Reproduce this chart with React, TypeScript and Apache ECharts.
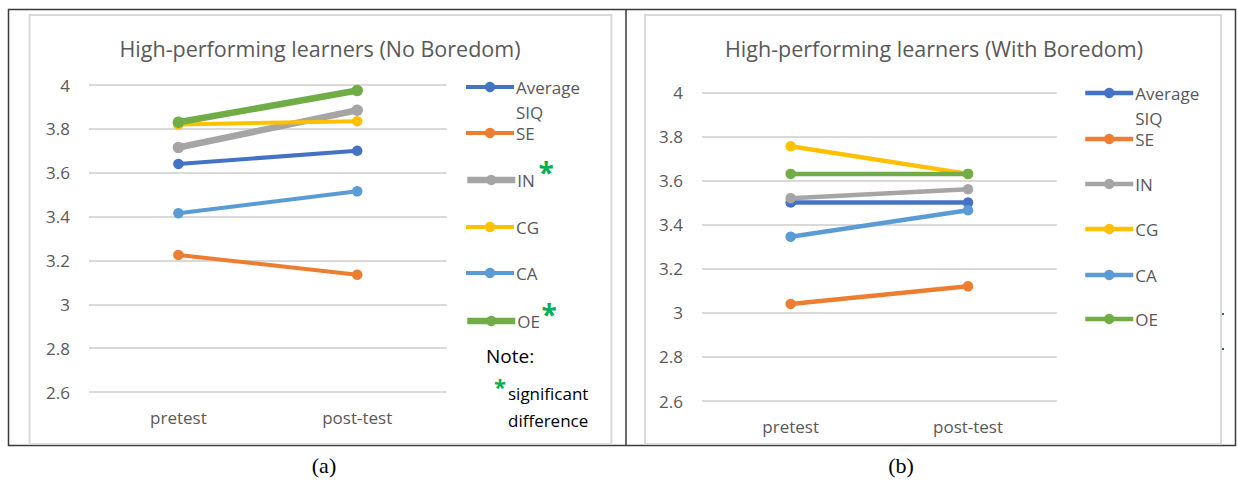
import React, { useEffect, useRef } from 'react';
import * as echarts from 'echarts';

// ---------- data ----------
const categories = ['pretest', 'post-test'];
const seriesNames = ['Average SIQ', 'SE', 'IN', 'CG', 'CA', 'OE'];
const seriesColors = ['#4472C4', '#ED7D31', '#A5A5A5', '#FFC000', '#5B9BD5', '#70AD47'];

const noBoredomAvg = [3.64, 3.7];
const noBoredomSE = [3.225, 3.135];
const noBoredomIN = [3.715, 3.885];
const noBoredomCG = [3.82, 3.835];
const noBoredomCA = [3.415, 3.515];
const noBoredomOE = [3.83, 3.975];

const withBoredomAvg = [3.5, 3.5];
const withBoredomSE = [3.04, 3.12];
const withBoredomIN = [3.52, 3.56];
const withBoredomCG = [3.755, 3.63];
const withBoredomCA = [3.345, 3.465];
const withBoredomOE = [3.63, 3.63];

const yMin = 2.6;
const yMax = 4;
const yInterval = 0.2;

const titleLeft = 'High-performing learners (No Boredom)';
const titleRight = 'High-performing learners (With Boredom)';
const significantLeft = ['IN', 'OE'];

const FONT = "'Open Sans', sans-serif";
const GREY_TEXT = '#595959';

export default function App() {
  const ref = useRef<HTMLDivElement>(null);

  useEffect(() => {
    if (!ref.current) return;
    const chart = echarts.init(ref.current, undefined, { renderer: 'svg' });

    const leftData = [noBoredomAvg, noBoredomSE, noBoredomIN, noBoredomCG, noBoredomCA, noBoredomOE];
    const rightData = [withBoredomAvg, withBoredomSE, withBoredomIN, withBoredomCG, withBoredomCA, withBoredomOE];

    const grids = [
      { left: 89, width: 357.6, top: 85, height: 307 },
      { left: 702, width: 354.7, top: 92.3, height: 308.7 },
    ];

    const xAxes = grids.map((_, i) => ({
      type: 'category',
      gridIndex: i,
      data: categories,
      boundaryGap: true,
      axisLine: { show: false },
      axisTick: { show: false },
      axisLabel: { color: GREY_TEXT, fontFamily: FONT, fontSize: 17, margin: 17 },
      z: 3,
    }));
    const yAxes = grids.map((_, i) => ({
      type: 'value',
      gridIndex: i,
      min: yMin,
      max: yMax,
      interval: yInterval,
      axisLine: { show: false },
      axisTick: { show: false },
      axisLabel: { color: GREY_TEXT, fontFamily: FONT, fontSize: 17, margin: 19 },
      splitLine: { lineStyle: { color: '#d9d9d9', width: 2 } },
      z: 3,
    }));

    const widthFor = (gi: number, name: string) =>
      gi === 0 && significantLeft.includes(name) ? 6.5 : gi === 0 ? 4 : 4.5;

    const series: any[] = [];
    [leftData, rightData].forEach((set, gi) => {
      set.forEach((vals, si) => {
        const name = seriesNames[si];
        const thick = gi === 0 && significantLeft.includes(name);
        series.push({
          type: 'line',
          name,
          xAxisIndex: gi,
          yAxisIndex: gi,
          data: vals,
          symbol: 'circle',
          symbolSize: thick ? 11.5 : 10.5,
          showSymbol: true,
          lineStyle: { width: widthFor(gi, name), color: seriesColors[si] },
          itemStyle: { color: seriesColors[si] },
          z: 4,
        });
      });
    });

    const legendCentersLeft = [87, 133, 180, 227, 273, 321];
    const legendCentersRight = [93, 139, 184, 229, 275, 319];
    const legends: any[] = [];
    const addLegends = (x: number, centers: number[], gi: number) => {
      seriesNames.forEach((name, i) => {
        const isAvg = i === 0;
        const L = isAvg ? 25 : 20;
        legends.push({
          data: [name],
          left: x,
          top: isAvg ? centers[i] - 1.5 * L : centers[i] - L / 2,
          padding: 0,
          itemWidth: 48,
          itemHeight: 13,
          itemGap: 0,
          selectedMode: false,
          formatter: isAvg ? '\nAverage\nSIQ' : '{name}',
          lineStyle: { width: widthFor(gi, name) },
          textStyle: {
            color: GREY_TEXT,
            fontFamily: FONT,
            fontSize: 17,
            lineHeight: L,
            padding: [0, 0, 0, -3],
          },
          z: 5,
        });
      });
    };
    addLegends(464, legendCentersLeft, 0);
    addLegends(1083, legendCentersRight, 1);

    const textEl = (x: number, y: number, text: string, size: number, color: string, extra: any = {}) => ({
      type: 'text',
      x,
      y,
      z: 6,
      style: {
        text,
        fill: color,
        font: `${extra.weight || 'normal'} ${size}px ${extra.family || FONT}`,
        textAlign: extra.align || 'left',
        textVerticalAlign: 'middle',
      },
    });

    const graphic: any[] = [
      // outer table border
      { type: 'rect', z: 0, shape: { x: 8.5, y: 9.5, width: 1227, height: 436 }, style: { fill: '#fff', stroke: '#3a3a3a', lineWidth: 1.5 } },
      { type: 'line', z: 0, shape: { x1: 626, y1: 9.5, x2: 626, y2: 445.5 }, style: { stroke: '#3a3a3a', lineWidth: 1.5 } },
      // chart frames
      { type: 'rect', z: 1, shape: { x: 29.5, y: 15, width: 582, height: 429 }, style: { fill: '#fff', stroke: '#d9d9d9', lineWidth: 2 } },
      { type: 'rect', z: 1, shape: { x: 645, y: 15, width: 576, height: 429 }, style: { fill: '#fff', stroke: '#d9d9d9', lineWidth: 2 } },
      // small artifacts
      { type: 'rect', z: 2, shape: { x: 1222, y: 313, width: 2, height: 2 }, style: { fill: '#217346' } },
      { type: 'rect', z: 2, shape: { x: 1222, y: 348, width: 2, height: 2 }, style: { fill: '#217346' } },
      // titles
      textEl(320, 48, titleLeft, 21.5, GREY_TEXT, { align: 'center' }),
      textEl(934, 48, titleRight, 21.5, GREY_TEXT, { align: 'center' }),
      // significance marks
      textEl(546, 172, '*', 28, '#00B050', { align: 'center', weight: 'bold' }),
      textEl(549, 314, '*', 28, '#00B050', { align: 'center', weight: 'bold' }),
      textEl(486, 356, 'Note:', 19, '#000'),
      textEl(500, 386, '*', 22, '#00B050', { align: 'center', weight: 'bold' }),
      textEl(508, 393, 'significant', 17, '#000'),
      textEl(508, 420, 'difference', 17, '#000'),
      // captions
      textEl(324, 465, '(a)', 22, '#000', { align: 'center', family: "'Liberation Serif', serif" }),
      textEl(901, 465, '(b)', 22, '#000', { align: 'center', family: "'Liberation Serif', serif" }),
    ];

    chart.setOption({
      animation: false,
      backgroundColor: '#fff',
      grid: grids,
      xAxis: xAxes,
      yAxis: yAxes,
      series,
      legend: legends,
      graphic,
    });

    return () => chart.dispose();
  }, []);

  return (
    <div
      ref={ref}
      style={{ position: 'absolute', left: 0, top: 0, width: 1238, height: 481 }}
    />
  );
}
